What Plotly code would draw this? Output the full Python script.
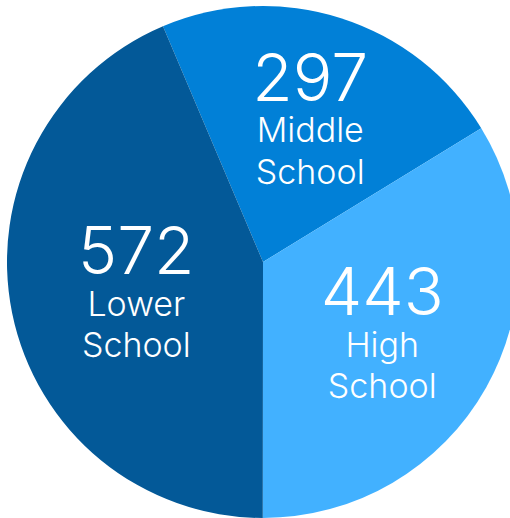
import plotly.graph_objects as go

categories = ["Middle School", "High School", "Lower School"]
label_lines = ["Middle<br>School", "High<br>School", "Lower<br>School"]
values = [297, 443, 572]
colors = ["#0180d7", "#42b1ff", "#035998"]

W, H = 520, 520
fig = go.Figure(go.Pie(
    labels=categories,
    values=values,
    customdata=label_lines,
    sort=False,
    direction="clockwise",
    rotation=-23,
    marker=dict(colors=colors, line=dict(width=0)),
    textposition="inside",
    insidetextorientation="horizontal",
    texttemplate="<span style='font-size:66px'>%{value}</span><br><span style='font-size:34px'>%{customdata}</span>",
    textfont=dict(family="Inter", size=32, color="white", weight=300),
    hoverinfo="skip",
    showlegend=False,
    domain=dict(x=[7 / W, 519 / W], y=[2 / H, 514 / H]),
))
fig.update_layout(
    width=W, height=H,
    margin=dict(l=0, r=0, t=0, b=0),
    paper_bgcolor="white",
)
fig.write_html(
    "out.html",
    config={"displayModeBar": False},
    post_script="document.body.style.margin='0';document.body.style.overflow='hidden';",
)
